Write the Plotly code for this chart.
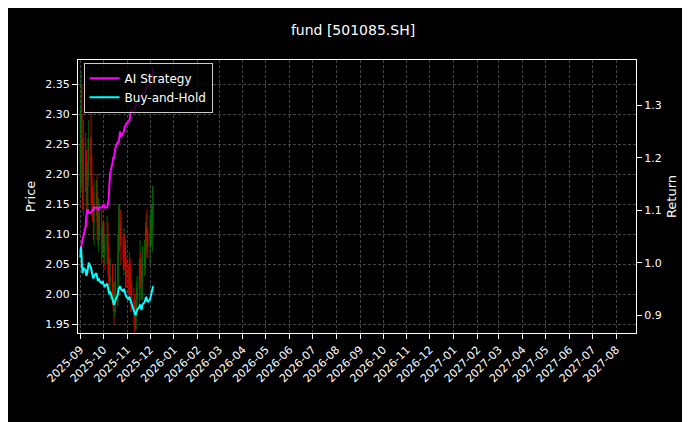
import pandas as pd
import plotly.graph_objs as go

dates = pd.bdate_range("2025-09-01", periods=70)

close = [2.25, 2.30, 2.22, 2.18, 2.24, 2.20, 2.15, 2.18, 2.22, 2.26, 2.20, 2.16, 2.14, 2.12, 2.15, 2.17, 2.12, 2.10, 2.13, 2.11, 2.08, 2.10,
         2.09, 2.07, 2.08, 2.10, 2.05, 2.04, 2.02, 2.03, 2.00, 1.99, 1.98, 2.00, 2.02, 2.06, 2.10, 2.12, 2.11, 2.08, 2.06, 2.08, 2.06, 2.04, 2.03,
         2.02, 2.04, 2.02, 2.00, 1.99, 1.97, 1.96, 1.97, 1.99, 2.01, 2.03, 2.05, 2.03, 2.02, 2.05, 2.07, 2.09, 2.11, 2.09, 2.08,
         2.10, 2.12, 2.11, 2.14, 2.15]
open_ = [2.22] + close[:-1]
wick = [0.06, 0.07, 0.05, 0.04, 0.05, 0.03, 0.04, 0.03, 0.04, 0.03, 0.05, 0.03, 0.02, 0.03, 0.04, 0.02, 0.03, 0.02, 0.03, 0.02, 0.03, 0.02,
        0.02, 0.03, 0.02, 0.03, 0.02, 0.03, 0.02, 0.03, 0.02, 0.02, 0.03, 0.02, 0.03, 0.04, 0.05, 0.03, 0.02, 0.03, 0.02, 0.03, 0.02, 0.03, 0.02,
        0.02, 0.03, 0.02, 0.03, 0.02, 0.02, 0.03, 0.02, 0.03, 0.02, 0.03, 0.04, 0.02, 0.03, 0.03, 0.02, 0.03, 0.02, 0.03, 0.02,
        0.03, 0.02, 0.03, 0.04, 0.03]
high = [max(o, c) + w for o, c, w in zip(open_, close, wick)]
low = [min(o, c) - w for o, c, w in zip(open_, close, wick)]

strategy = [1.02, 1.03, 1.04, 1.045, 1.05, 1.07, 1.09, 1.10, 1.10, 1.095, 1.095, 1.10, 1.10, 1.10, 1.105, 1.105, 1.105, 1.10, 1.105, 1.105, 1.105, 1.11,
            1.11, 1.11, 1.105, 1.105, 1.11, 1.12, 1.15, 1.17, 1.19, 1.20, 1.20, 1.21, 1.22, 1.23, 1.23, 1.24, 1.25, 1.24, 1.25, 1.25, 1.26, 1.26, 1.265,
            1.27, 1.27, 1.28, 1.29, 1.29, 1.29, 1.295, 1.30, 1.30, 1.305, 1.31, 1.31, 1.315, 1.32, 1.32, 1.325, 1.33, 1.33, 1.335, 1.34,
            1.34, 1.345, 1.35, 1.36, 1.37]
buyhold = [1.01, 1.03, 1.00, 0.98, 0.99, 0.985, 0.975, 0.98, 0.99, 1.00, 0.99, 0.98, 0.975, 0.97, 0.975, 0.98, 0.97, 0.965, 0.97, 0.965, 0.96, 0.965,
           0.96, 0.955, 0.955, 0.96, 0.95, 0.945, 0.94, 0.945, 0.93, 0.925, 0.92, 0.925, 0.93, 0.94, 0.95, 0.955, 0.955, 0.95, 0.945, 0.95, 0.945, 0.94, 0.935,
           0.93, 0.935, 0.93, 0.925, 0.92, 0.91, 0.905, 0.90, 0.905, 0.91, 0.915, 0.92, 0.915, 0.91, 0.92, 0.925, 0.93, 0.935, 0.93, 0.925,
           0.93, 0.935, 0.94, 0.945, 0.955]

fig = go.Figure()
fig.add_trace(go.Candlestick(
    x=dates, open=open_, high=high, low=low, close=close,
    increasing=dict(line=dict(color="green", width=1), fillcolor="green"),
    decreasing=dict(line=dict(color="red", width=1), fillcolor="red"),
    whiskerwidth=0, showlegend=False, opacity=0.8))
fig.add_trace(go.Scatter(x=dates, y=strategy, yaxis="y2", mode="lines",
                         line=dict(color="#ff00ff", width=2), name="AI Strategy"))
fig.add_trace(go.Scatter(x=dates, y=buyhold, yaxis="y2", mode="lines",
                         line=dict(color="cyan", width=2), name="Buy-and-Hold"))

grid = dict(showgrid=True, gridcolor="#444", griddash="3px,2px", gridwidth=0.5,
            showline=True, linecolor="white", mirror=True, ticks="outside",
            tickcolor="white", zeroline=False)

fig.update_layout(
    width=690, height=422,
    paper_bgcolor="black", plot_bgcolor="black",
    font=dict(family="DejaVu Sans", color="white", size=11),
    title=dict(text="fund [501085.SH]", x=0.5, xanchor="center", y=0.96, font=dict(size=14)),
    margin=dict(l=70, r=62, t=52, b=97),
    xaxis=dict(grid, type="date", range=["2025-08-29", "2027-08-27"], dtick="M1",
               tick0="2025-09-01", tickformat="%Y-%m", tickangle=-45,
               rangeslider=dict(visible=False)),
    yaxis=dict(grid, title=dict(text="Price", standoff=6), range=[1.935, 2.39], dtick=0.05, tickformat=".2f"),
    yaxis2=dict(title=dict(text="Return", standoff=6), overlaying="y", side="right",
                range=[0.866, 1.386], dtick=0.1, tickformat=".1f", showgrid=False,
                ticks="outside", tickcolor="white", zeroline=False),
    legend=dict(x=0.01, y=0.99, xanchor="left", yanchor="top", bgcolor="rgba(0,0,0,0.8)",
                bordercolor="#ccc", borderwidth=1, font=dict(size=12)),
)

fig.write_html("out.html")
